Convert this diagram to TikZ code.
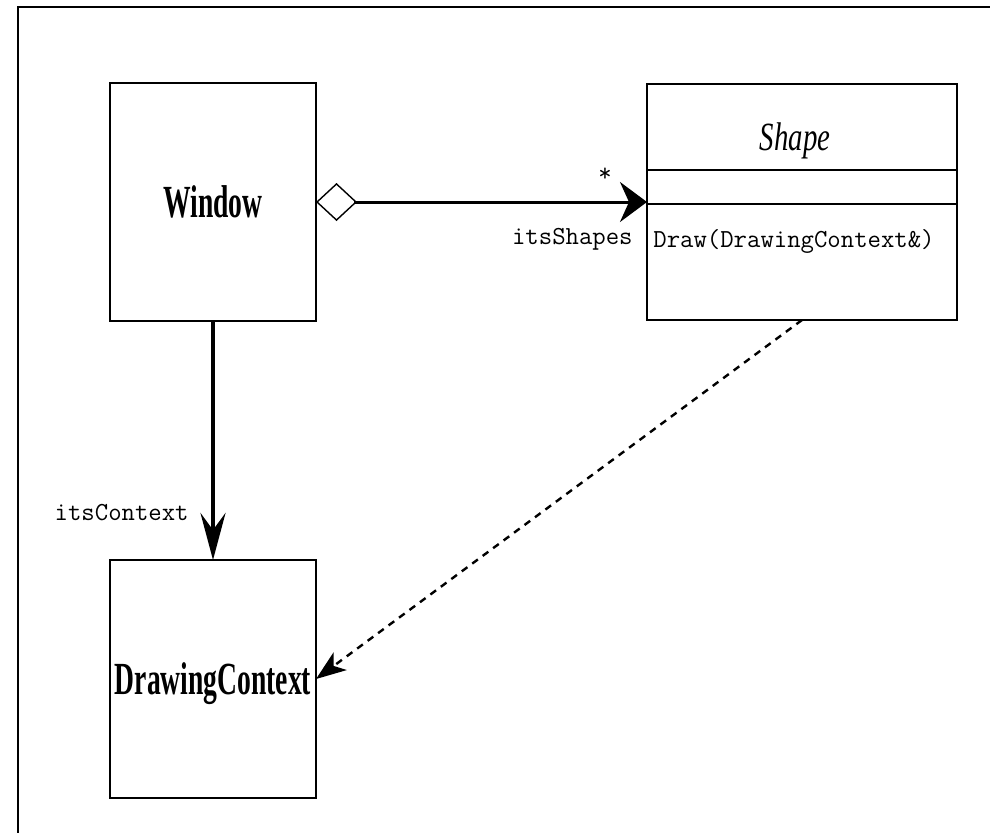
\documentclass[tikz,border=0pt]{standalone}
\usepackage{fontspec}
\setmainfont{Liberation Serif}
\newfontfamily\umlserif[FakeStretch=0.6]{Liberation Serif}
\newfontfamily\umlitalic[FakeStretch=0.72]{Liberation Serif}
\usepackage{tikz}
\usetikzlibrary{arrows.meta,positioning}
\tikzset{
  uml/class/.style={draw, line width=1.2pt, outer sep=0pt, inner sep=0pt, minimum width=103pt, minimum height=119pt, align=center, text depth=0pt, font=\umlserif\bfseries\fontsize{23}{23}\selectfont},
  uml/abstract/.style={draw, line width=1.2pt, outer sep=0pt, inner sep=0pt, minimum width=155pt, minimum height=118pt},
  uml/sep/.style={line width=1.2pt},
  uml/name/.style={font=\umlitalic\itshape\fontsize{20}{20}\selectfont, inner sep=0pt, anchor=base},
  uml/op/.style={font=\ttfamily\fontsize{13}{14}\selectfont, inner sep=0pt, anchor=base west},
  uml/role/.style={font=\ttfamily\fontsize{13}{14}\selectfont, inner sep=0pt, anchor=base east},
  uml/mult/.style={uml/role, anchor=base},
  uml/aggr/.style={line width=1.5pt, {Diamond[open, length=20.5pt, width=19pt, line width=0.7pt]}-{Stealth[length=13.5pt, width=20pt, inset=4.5pt]}},
  uml/assoc/.style={line width=2.4pt, -{Stealth[length=23.5pt, width=12.5pt, inset=8.5pt]}},
  uml/dep/.style={line width=1.2pt, dash pattern=on 3.5pt off 3pt, -{Stealth[length=15pt, width=11pt, inset=4pt]}},
  uml/frame/.style={line width=1.3pt}
}

\begin{document}
\begin{tikzpicture}[x=0.5pt, y=-0.5pt]
  \clip (0,0) rectangle (990,832);
  \draw[uml/frame] (18,850) |- (1010,7);
  % classes
  \node[uml/class] (window) at (213,202) {Window};
  \node[uml/abstract, right=165.5pt of window] (shape) {};
  \node[uml/class, below=119.5pt of window] (ctx) {DrawingContext};
  % compartments of Shape
  \draw[uml/sep] ([yshift=-43pt]shape.north west) -- ([yshift=-43pt]shape.north east);
  \draw[uml/sep] ([yshift=-60pt]shape.north west) -- ([yshift=-60pt]shape.north east);
  \node[uml/name] (shapename) at ([xshift=-3.5pt, yshift=-33pt]shape.north) {Shape};
  \node[uml/op] (drawop) at ([xshift=3pt, yshift=-81.5pt]shape.north west) {Draw(DrawingContext\&)};
  % relations
  \draw[uml/aggr] (window.east) -- (shape.west);
  \draw[uml/assoc] (window.south) -- (ctx.north);
  \draw[uml/dep] (shape.south) -- (ctx.east);
  \node[uml/mult] (mult) at (605,181) {*};
  \node[uml/role] (shapesrole) at (633,244) {itsShapes};
  \node[uml/role] (ctxrole) at (189,520) {itsContext};
\end{tikzpicture}
\end{document}
